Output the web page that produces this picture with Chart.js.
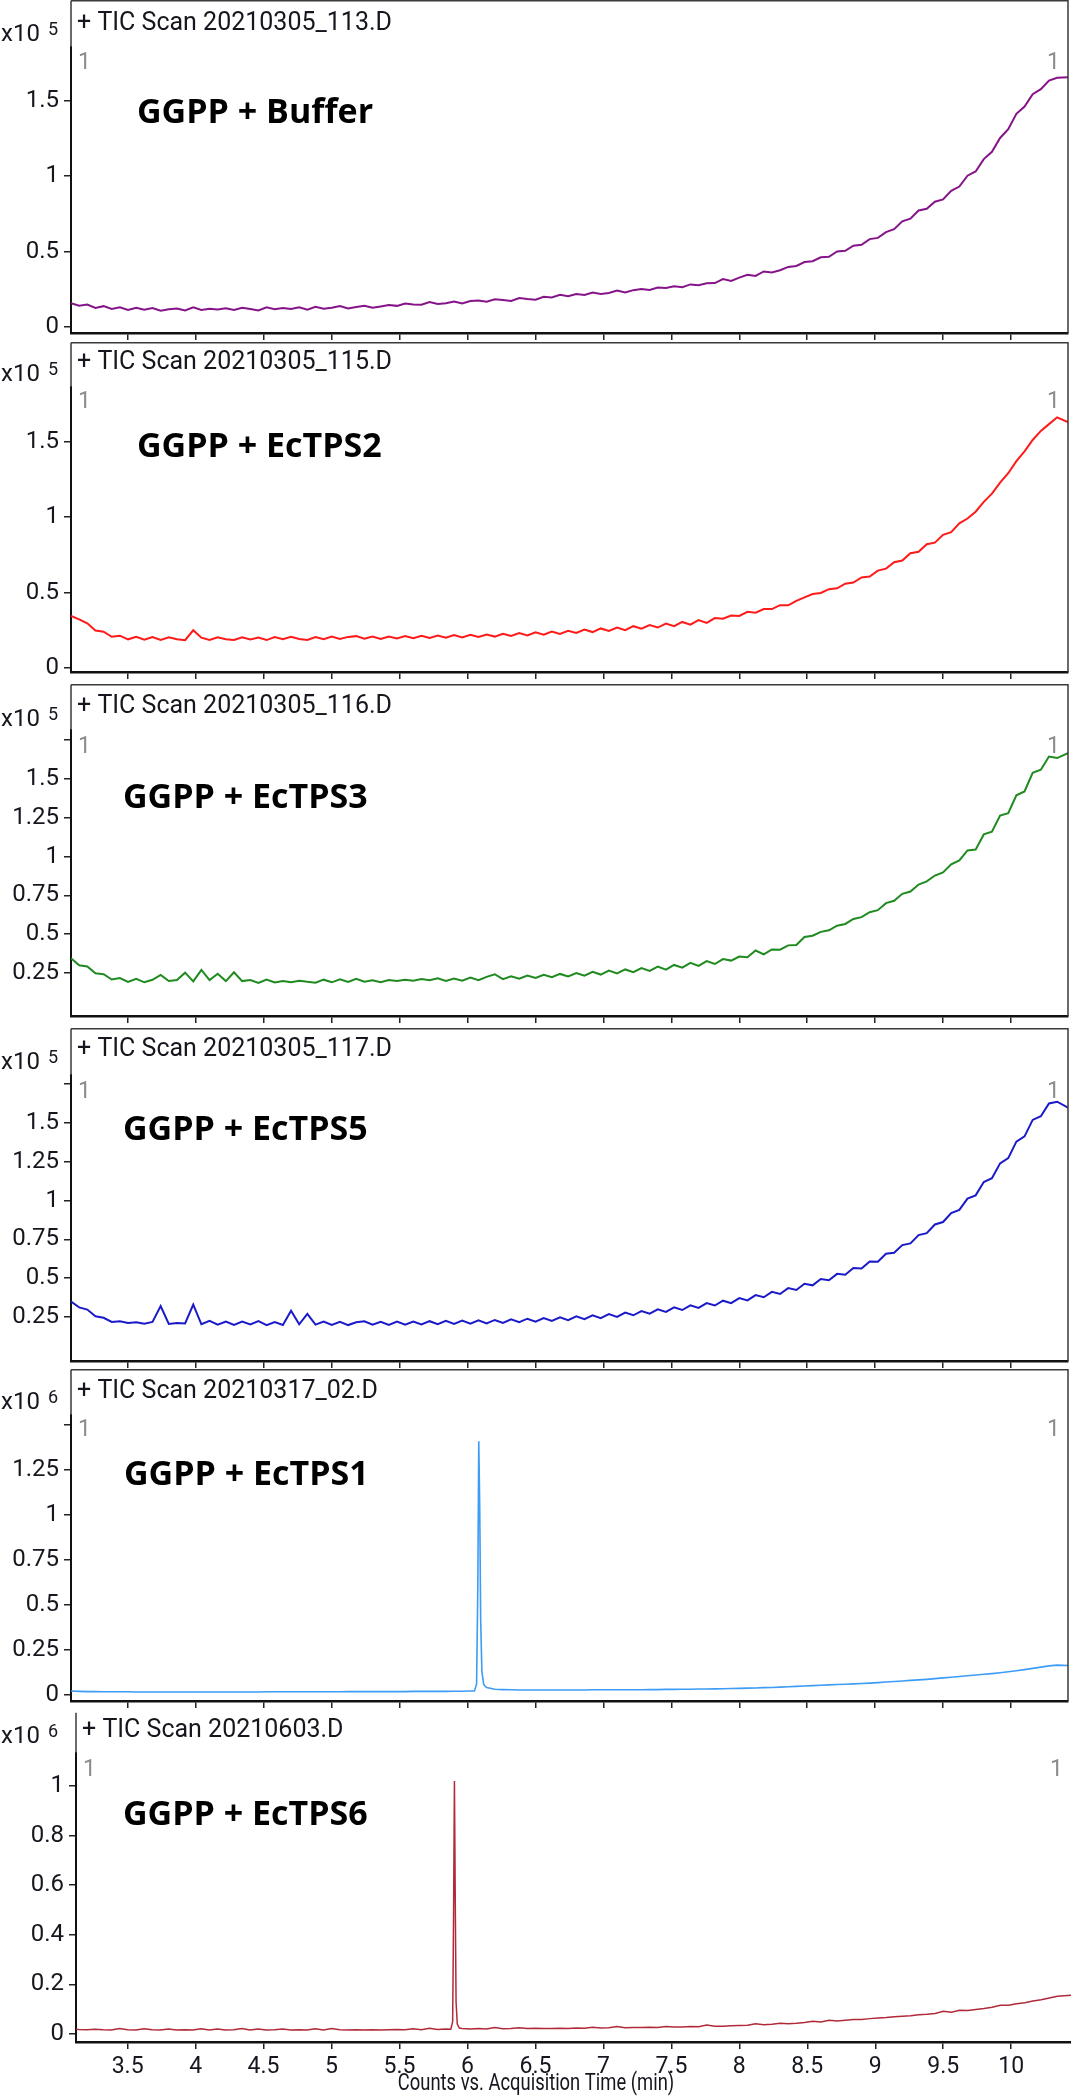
<!DOCTYPE html>
<html>
<head>
<meta charset="utf-8">
<script src="https://cdn.jsdelivr.net/npm/chart.js@4.4.1/dist/chart.umd.min.js"></script>
<style>
  html, body { margin: 0; padding: 0; background: #fff; }
  #page { position: relative; width: 1071px; height: 2100px; overflow: hidden; background: #fff; }
  #page canvas { position: absolute; left: 0; }
</style>
</head>
<body>
<div id="page"></div>
<script>
// acquisition time (min), shared by all six traces
const times = [
  3.08,3.14,3.20,3.26,3.32,3.38,3.44,3.50,3.56,3.62,
  3.68,3.74,3.80,3.86,3.92,3.98,4.04,4.10,4.16,4.22,
  4.28,4.34,4.40,4.46,4.52,4.58,4.64,4.70,4.76,4.82,
  4.88,4.94,5.00,5.06,5.12,5.18,5.24,5.30,5.36,5.42,
  5.48,5.54,5.60,5.66,5.72,5.78,5.84,5.90,5.96,6.02,
  6.08,6.14,6.20,6.26,6.32,6.38,6.44,6.50,6.56,6.62,
  6.68,6.74,6.80,6.86,6.92,6.98,7.04,7.10,7.16,7.22,
  7.28,7.34,7.40,7.46,7.52,7.58,7.64,7.70,7.76,7.82,
  7.88,7.94,8.00,8.06,8.12,8.18,8.24,8.30,8.36,8.42,
  8.48,8.54,8.60,8.66,8.72,8.78,8.84,8.90,8.96,9.02,
  9.08,9.14,9.20,9.26,9.32,9.38,9.44,9.50,9.56,9.62,
  9.68,9.74,9.80,9.86,9.92,9.98,10.04,10.10,10.16,10.22,
  10.28,10.34,10.44
];

// counts x10^5
const ticBuffer = [
  .158,.141,.149,.126,.138,.119,.131,.113,.128,.115,
  .126,.108,.118,.122,.109,.13,.113,.121,.116,.124,
  .112,.127,.119,.109,.13,.118,.126,.12,.131,.115,
  .134,.121,.128,.139,.122,.133,.141,.127,.136,.146,
  .14,.156,.149,.147,.165,.152,.158,.168,.156,.172,
  .176,.167,.184,.179,.172,.192,.185,.181,.2,.195,
  .213,.204,.219,.212,.228,.219,.225,.241,.228,.244,
  .252,.245,.261,.259,.27,.264,.282,.276,.29,.291,
  .318,.305,.327,.346,.338,.368,.361,.376,.398,.404,
  .43,.436,.462,.465,.5,.505,.538,.545,.582,.59,
  .628,.648,.7,.718,.772,.783,.83,.845,.902,.93,
  1.002,1.03,1.112,1.16,1.252,1.31,1.412,1.46,1.542,1.575,
  1.632,1.65,1.655
];
const ticTps2 = [
  .345,.322,.296,.248,.24,.207,.214,.19,.207,.188,
  .205,.186,.203,.191,.184,.25,.201,.186,.204,.19,
  .186,.204,.189,.202,.185,.205,.19,.207,.192,.186,
  .205,.19,.208,.193,.206,.211,.194,.208,.192,.209,
  .195,.211,.198,.214,.199,.215,.2,.218,.203,.22,
  .205,.222,.208,.227,.212,.231,.216,.236,.221,.242,
  .226,.247,.232,.255,.238,.262,.245,.268,.251,.277,
  .26,.284,.268,.294,.277,.305,.287,.317,.299,.331,
  .326,.348,.345,.372,.366,.39,.39,.416,.415,.445,
  .468,.49,.497,.522,.528,.558,.566,.6,.606,.645,
  .658,.7,.712,.76,.77,.82,.83,.882,.9,.958,
  .99,1.035,1.1,1.155,1.228,1.29,1.37,1.435,1.51,1.57,
  1.615,1.66,1.62
];
const ticTps3 = [
  .345,.3,.292,.248,.242,.208,.217,.192,.212,.19,
  .206,.238,.198,.205,.252,.196,.27,.204,.245,.198,
  .255,.198,.205,.186,.207,.189,.198,.19,.2,.193,
  .188,.207,.19,.21,.193,.212,.194,.203,.19,.205,
  .198,.207,.2,.211,.203,.216,.198,.215,.2,.221,
  .204,.225,.242,.21,.229,.213,.234,.218,.239,.223,
  .244,.228,.25,.233,.258,.24,.265,.247,.273,.255,
  .282,.264,.291,.272,.302,.284,.315,.296,.327,.308,
  .34,.33,.356,.352,.395,.37,.402,.4,.428,.43,
  .482,.49,.515,.525,.555,.566,.598,.61,.642,.655,
  .7,.715,.76,.775,.82,.84,.878,.898,.95,.975,
  1.04,1.045,1.143,1.16,1.265,1.28,1.395,1.42,1.54,1.56,
  1.645,1.635,1.675
];
const ticTps5 = [
  .35,.312,.298,.255,.245,.218,.222,.212,.216,.207,
  .218,.32,.205,.212,.208,.33,.203,.225,.2,.221,
  .199,.22,.202,.223,.198,.218,.199,.29,.203,.27,
  .201,.221,.199,.219,.198,.216,.222,.2,.219,.199,
  .22,.2,.221,.202,.223,.204,.225,.206,.227,.207,
  .228,.209,.231,.212,.235,.216,.239,.22,.243,.225,
  .248,.23,.254,.236,.261,.243,.269,.251,.278,.261,
  .288,.271,.299,.283,.312,.295,.325,.309,.34,.324,
  .355,.339,.372,.357,.391,.377,.412,.398,.436,.424,
  .464,.454,.495,.487,.528,.522,.566,.562,.608,.606,
  .658,.664,.713,.724,.778,.79,.846,.862,.92,.94,
  1.013,1.034,1.12,1.144,1.24,1.274,1.38,1.414,1.52,1.544,
  1.626,1.637,1.59
];
// counts x10^6 (null = replaced by the peak points below)
const ticTps1 = [
  .022,.02,.019,.019,.018,.018,.018,.018,.017,.017,
  .017,.017,.017,.017,.017,.017,.017,.017,.017,.017,
  .017,.017,.017,.017,.018,.018,.018,.018,.018,.018,
  .018,.018,.018,.018,.019,.019,.019,.019,.019,.019,
  .019,.019,.02,.02,.02,.02,.02,.021,.021,.022,
  null,.042,.032,.03,.029,.028,.028,.028,.028,.028,
  .028,.028,.028,.028,.029,.029,.029,.029,.029,.029,
  .029,.03,.03,.031,.031,.032,.032,.033,.033,.034,
  .035,.036,.037,.038,.039,.041,.042,.044,.046,.048,
  .05,.052,.054,.056,.058,.06,.062,.064,.066,.069,
  .072,.075,.078,.081,.084,.087,.091,.095,.099,.103,
  .107,.111,.115,.119,.124,.129,.135,.141,.148,.155,
  .162,.166,.163
];
const peakTimesTps1 = [6.05, 6.066, 6.075, 6.082, 6.089, 6.096, 6.105, 6.118, 6.13];
const peakValsTps1 = [.022, .06, .6, 1.41, 1.05, .42, .13, .06, .047];

const ticTps6 = [
  .02,.018,.017,.019,.017,.016,.022,.017,.016,.021,
  .017,.016,.02,.016,.017,.016,.021,.016,.02,.016,
  .017,.022,.016,.02,.016,.017,.02,.016,.017,.016,
  .021,.016,.022,.017,.016,.017,.016,.017,.016,.017,
  .018,.017,.021,.017,.023,.018,.02,null,.022,.02,
  .022,.02,.026,.021,.022,.025,.022,.023,.022,.022,
  .023,.022,.024,.023,.027,.024,.025,.03,.025,.026,
  .026,.027,.026,.03,.028,.028,.03,.029,.036,.031,
  .031,.033,.034,.035,.041,.037,.039,.043,.041,.043,
  .046,.051,.048,.055,.052,.055,.058,.058,.062,.065,
  .067,.07,.072,.074,.078,.08,.083,.092,.088,.096,
  .095,.099,.103,.108,.116,.116,.122,.126,.133,.138,
  .145,.152,.156
];
const peakTimesTps6 = [5.877, 5.891, 5.898, 5.904, 5.91, 5.916, 5.925, 5.94];
const peakValsTps6 = [.019, .05, .5, 1.02, .55, .13, .04, .024];

// tick values and labels
const xTicks = [3.5, 4, 4.5, 5, 5.5, 6, 6.5, 7, 7.5, 8, 8.5, 9, 9.5, 10];
const xTickLabels = ['3.5','4','4.5','5','5.5','6','6.5','7','7.5','8','8.5','9','9.5','10'];
const yTicksHalf = [0, 0.5, 1, 1.5];
const yLabelsHalf = ['0', '0.5', '1', '1.5'];
const yTicksQuarter = [0.25, 0.5, 0.75, 1, 1.25, 1.5, 1.75];
const yLabelsQuarter = ['0.25', '0.5', '0.75', '1', '1.25', '1.5', ''];
const yTicksQuarter0 = [0, 0.25, 0.5, 0.75, 1, 1.25, 1.5];
const yLabelsQuarter0 = ['0', '0.25', '0.5', '0.75', '1', '1.25', ''];
const yTicksFifth = [0, 0.2, 0.4, 0.6, 0.8, 1];
const yLabelsFifth = ['0', '0.2', '0.4', '0.6', '0.8', '1'];

const scanNames = ['+ TIC Scan 20210305_113.D', '+ TIC Scan 20210305_115.D', '+ TIC Scan 20210305_116.D',
  '+ TIC Scan 20210305_117.D', '+ TIC Scan 20210317_02.D', '+ TIC Scan 20210603.D'];
const sampleNames = ['GGPP + Buffer', 'GGPP + EcTPS2', 'GGPP + EcTPS3', 'GGPP + EcTPS5', 'GGPP + EcTPS1', 'GGPP + EcTPS6'];
const exponents = ['5', '5', '5', '5', '6', '6'];
const xTitle = 'Counts vs. Acquisition Time (min)';

// page geometry of each panel (pixels)
const panels = [
  { vals: ticBuffer, color: '#861489', lw: 2, yt: yTicksHalf, yl: yLabelsHalf,
    frameTop: 0, axisTop: 47, axisBottom: 333, zero: 327, unit: 151, left: 71, right: 1068, xmin: 3.08, xmax: 10.42,
    titleY: 24, expY: 35, oneY: 63, labelX: 137, labelY: 113, box: true },
  { vals: ticTps2, color: '#ff1a1a', lw: 2, yt: yTicksHalf, yl: yLabelsHalf,
    frameTop: 342, axisTop: 387, axisBottom: 672, zero: 668, unit: 151, left: 71, right: 1068, xmin: 3.08, xmax: 10.42,
    titleY: 363, expY: 375, oneY: 402, labelX: 137, labelY: 447, box: true },
  { vals: ticTps3, color: '#1f8a1f', lw: 2, yt: yTicksQuarter, yl: yLabelsQuarter,
    frameTop: 684, axisTop: 730, axisBottom: 1016, zero: 1011.8, unit: 155.2, left: 71, right: 1068, xmin: 3.08, xmax: 10.42,
    titleY: 707, expY: 720, oneY: 747, labelX: 123, labelY: 798, box: true },
  { vals: ticTps5, color: '#1a1ac8', lw: 2, yt: yTicksQuarter, yl: yLabelsQuarter,
    frameTop: 1028, axisTop: 1075, axisBottom: 1361, zero: 1355.8, unit: 155.2, left: 71, right: 1068, xmin: 3.08, xmax: 10.42,
    titleY: 1050, expY: 1063, oneY: 1092, labelX: 123, labelY: 1130, box: true },
  { vals: ticTps1, pt: peakTimesTps1, pv: peakValsTps1, color: '#3d9cf5', lw: 1.6, yt: yTicksQuarter0, yl: yLabelsQuarter0,
    frameTop: 1369, axisTop: 1415, axisBottom: 1701, zero: 1695, unit: 180, left: 71, right: 1068, xmin: 3.08, xmax: 10.42,
    titleY: 1392, expY: 1403, oneY: 1430, labelX: 124, labelY: 1475, box: true },
  { vals: ticTps6, pt: peakTimesTps6, pv: peakValsTps6, color: '#b02a3a', lw: 1.5, yt: yTicksFifth, yl: yLabelsFifth,
    frameTop: 1712, axisTop: 1753, axisBottom: 2042, zero: 2034, unit: 248, left: 76, right: 1071, xmin: 3.12, xmax: 10.44,
    titleY: 1731, expY: 1737, oneY: 1770, labelX: 123, labelY: 1815, box: false, last: true }
];

const TXT = '#16161e';
const FONT = 'Roboto, "Liberation Sans", Arial, sans-serif';

function toPoints(ts, vs, extraT, extraV) {
  const pts = [];
  ts.forEach((t, i) => { if (vs[i] !== null) pts.push({ x: t, y: vs[i] }); });
  (extraT || []).forEach((t, i) => pts.push({ x: t, y: extraV[i] }));
  return pts.sort((a, b) => a.x - b.x);
}

const panelText = {
  id: 'panelText',
  afterDraw(chart, args, o) {
    const { ctx, chartArea: a } = chart;
    const off = o.canvasTop;
    const ft = o.frameTop - off + 0.75;
    ctx.save();
    ctx.strokeStyle = '#3a3a3a';
    ctx.lineWidth = 1.5;
    ctx.beginPath();
    ctx.moveTo(a.left, ft);
    ctx.lineTo(a.left, a.top);
    if (o.box) {
      ctx.moveTo(a.left, ft);
      ctx.lineTo(a.right, ft);
      ctx.lineTo(a.right, a.bottom);
    }
    ctx.stroke();

    ctx.textBaseline = 'middle';
    ctx.fillStyle = TXT;
    ctx.font = '25px ' + FONT;
    ctx.textAlign = 'left';
    ctx.fillText(o.title, a.left + 6, o.titleY - off);
    ctx.font = '24px ' + FONT;
    ctx.fillText('x10', 1, o.expY - off);
    ctx.font = '18px ' + FONT;
    ctx.fillText(o.exp, 48, o.expY - off - 5);

    ctx.fillStyle = '#8c8c8c';
    ctx.font = '23px ' + FONT;
    ctx.fillText('1', a.left + 7, o.oneY - off);
    ctx.textAlign = 'right';
    ctx.fillText('1', a.right - 8, o.oneY - off);

    ctx.fillStyle = '#000';
    ctx.textAlign = 'left';
    ctx.font = 'bold 34px "Open Sans", "Noto Sans", sans-serif';
    ctx.fillText(o.label, o.labelX, o.labelY - off);

    if (o.last) {
      ctx.fillStyle = TXT;
      ctx.textAlign = 'center';
      ctx.font = '23px ' + FONT;
      ctx.translate(536, 2084 - off);
      ctx.scale(0.8, 1);
      ctx.fillText(xTitle, 0, 0);
    }
    ctx.restore();
  }
};

const page = document.getElementById('page');

panels.forEach((p, k) => {
  const canvasTop = Math.max(0, p.frameTop - 4);
  const canvasBottom = p.last ? 2100 : p.axisBottom + 22;
  const h = canvasBottom - canvasTop;
  const canvas = document.createElement('canvas');
  canvas.width = 1071;
  canvas.height = h;
  canvas.style.top = canvasTop + 'px';
  canvas.style.width = '1071px';
  canvas.style.height = h + 'px';
  page.appendChild(canvas);

  const yMin = (p.zero - p.axisBottom) / p.unit;
  const yMax = (p.zero - p.axisTop) / p.unit;

  new Chart(canvas, {
    type: 'line',
    data: {
      datasets: [{
        data: toPoints(times, p.vals, p.pt, p.pv),
        borderColor: p.color,
        borderWidth: p.lw,
        pointRadius: 0,
        tension: 0,
        fill: false
      }]
    },
    options: {
      responsive: false,
      animation: false,
      events: [],
      layout: { padding: { top: p.axisTop - canvasTop, left: 0, right: 1071 - p.right, bottom: 0 } },
      plugins: {
        legend: { display: false },
        tooltip: { enabled: false },
        panelText: {
          canvasTop, frameTop: p.frameTop, box: p.box, last: !!p.last,
          title: scanNames[k], exp: exponents[k], label: sampleNames[k],
          titleY: p.titleY, expY: p.expY, oneY: p.oneY, labelX: p.labelX, labelY: p.labelY
        }
      },
      scales: {
        x: {
          type: 'linear',
          min: p.xmin,
          max: p.xmax,
          afterBuildTicks: s => { s.ticks = xTicks.map(v => ({ value: v })); },
          afterFit: s => { s.height = canvasBottom - p.axisBottom; },
          grid: { drawOnChartArea: false, drawTicks: true, tickLength: 7, color: '#222', lineWidth: 1.5 },
          border: { display: true, color: '#111', width: 2.5 },
          ticks: {
            display: !!p.last,
            autoSkip: false,
            maxRotation: 0,
            padding: 4,
            color: TXT,
            font: { family: FONT, size: 23 },
            callback: (v, i) => xTickLabels[i]
          }
        },
        y: {
          type: 'linear',
          min: yMin,
          max: yMax,
          afterBuildTicks: s => { s.ticks = p.yt.map(v => ({ value: v })); },
          afterFit: s => { s.width = p.left; },
          grid: { drawOnChartArea: false, drawTicks: true, tickLength: 7, color: '#222', lineWidth: 1.5 },
          border: { display: true, color: '#111', width: 2 },
          ticks: {
            autoSkip: false,
            padding: 5,
            color: TXT,
            font: { family: FONT, size: 24 },
            callback: (v, i) => p.yl[i]
          }
        }
      }
    },
    plugins: [panelText]
  });
});
</script>
</body>
</html>
